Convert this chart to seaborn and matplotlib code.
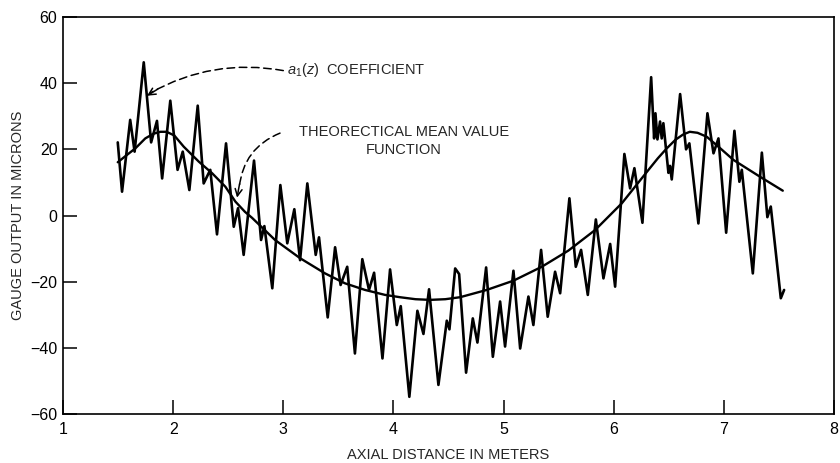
import matplotlib
matplotlib.use("Agg")
import matplotlib.pyplot as plt
import seaborn as sns
import pandas as pd

# Measured gauge trace (axial distance in m, gauge output in microns)
trace_x = [1.497, 1.536, 1.610, 1.650, 1.733, 1.800, 1.853, 1.900, 1.974, 2.040,
           2.087, 2.147, 2.223, 2.277, 2.337, 2.398, 2.480, 2.550, 2.589, 2.640,
           2.734, 2.798, 2.828, 2.900, 2.973, 3.036, 3.100, 3.152, 3.218, 3.294,
           3.324, 3.403, 3.470, 3.520, 3.580, 3.650, 3.717, 3.778, 3.824, 3.900,
           3.969, 4.030, 4.066, 4.144, 4.217, 4.272, 4.323, 4.408, 4.484, 4.508,
           4.560, 4.596, 4.659, 4.720, 4.762, 4.841, 4.902, 4.968, 5.013, 5.089,
           5.150, 5.225, 5.270, 5.340, 5.400, 5.467, 5.513, 5.597, 5.655, 5.703,
           5.764, 5.837, 5.906, 5.967, 6.012, 6.096, 6.148, 6.187, 6.260, 6.339,
           6.366, 6.378, 6.396, 6.420, 6.435, 6.450, 6.496, 6.510, 6.526, 6.602,
           6.656, 6.686, 6.768, 6.850, 6.905, 6.950, 7.020, 7.095, 7.140, 7.162,
           7.262, 7.344, 7.394, 7.425, 7.516, 7.546]
trace_y = [22.1, 7.2, 28.9, 19.3, 46.3, 22.1, 28.6, 11.2, 34.7, 13.8,
           19.3, 7.7, 33.2, 9.7, 13.8, -5.7, 21.8, -3.4, 2.2, -11.9,
           16.6, -7.4, -3.2, -22.0, 9.2, -8.4, 1.9, -13.5, 9.7, -11.9,
           -6.6, -30.8, -9.6, -21.0, -15.5, -41.7, -13.2, -22.5, -17.3, -43.2,
           -16.3, -33.1, -27.4, -54.8, -28.8, -35.8, -22.3, -51.2, -31.8, -34.4,
           -16.0, -17.7, -47.5, -31.1, -38.4, -15.7, -42.7, -26.0, -39.6, -16.7,
           -40.2, -24.5, -33.1, -10.4, -30.6, -17.0, -23.5, 5.2, -15.5, -10.4,
           -24.0, -1.2, -19.0, -8.6, -21.5, 18.6, 8.2, 14.3, -2.2, 41.8,
           23.3, 30.9, 23.0, 28.4, 23.3, 27.9, 12.9, 15.0, 10.9, 36.7,
           20.0, 21.8, -2.4, 30.9, 18.8, 23.3, -5.2, 25.6, 10.2, 13.8,
           -17.5, 19.0, -0.5, 2.7, -25.0, -22.5]

# Theoretical mean value function
mean_x = [1.497, 1.580, 1.657, 1.747, 1.820, 1.884, 1.940, 2.010, 2.096, 2.232,
          2.353, 2.474, 2.565, 2.652, 2.716, 2.925, 3.152, 3.379, 3.560, 3.742,
          3.924, 4.060, 4.200, 4.332, 4.470, 4.604, 4.846, 5.089, 5.346, 5.588,
          5.830, 6.073, 6.315, 6.400, 6.481, 6.560, 6.630, 6.690, 6.760, 6.844,
          6.960, 7.086, 7.328, 7.534]
mean_y = [16.1, 18.3, 20.3, 23.3, 24.7, 25.3, 25.3, 24.2, 20.8, 16.3,
          12.8, 8.7, 4.2, 1.1, -0.7, -7.4, -12.9, -17.5, -20.5, -22.5,
          -24.0, -24.7, -25.3, -25.5, -25.3, -24.7, -22.5, -19.7, -15.5, -10.6,
          -4.4, 3.7, 13.8, 17.3, 20.3, 22.9, 24.5, 25.3, 25.0, 23.8,
          20.5, 16.8, 11.7, 7.5]

x_ticks = [1, 2, 3, 4, 5, 6, 7, 8]
y_ticks = [-60, -40, -20, 0, 20, 40, 60]

trace = pd.DataFrame({"x": trace_x, "y": trace_y})
mean = pd.DataFrame({"x": mean_x, "y": mean_y})

sns.set_style("ticks")
plt.rcParams["font.family"] = ["Liberation Sans", "DejaVu Sans"]
plt.rcParams["mathtext.fontset"] = "custom"
plt.rcParams["mathtext.it"] = "Liberation Sans:italic"
plt.rcParams["mathtext.rm"] = "Liberation Sans"

fig = plt.figure(figsize=(8.4, 4.63), dpi=100)
ax = fig.add_axes([0.075, 0.1058, 0.918, 0.8575])

sns.lineplot(data=trace, x="x", y="y", ax=ax, color="black", lw=1.9,
             sort=False, estimator=None)
sns.lineplot(data=mean, x="x", y="y", ax=ax, color="black", lw=1.7,
             sort=False, estimator=None)

ax.set_xlim(1, 8)
ax.set_ylim(-60, 60)
ax.set_xticks(x_ticks)
ax.set_yticks(y_ticks)
ax.set_xticklabels([str(v) for v in x_ticks])
ax.set_yticklabels([f"{v}".replace("-", "\u2212") for v in y_ticks])
ax.tick_params(axis="both", direction="in", length=10, width=1.1,
               labelsize=11.5, colors="black")
ax.tick_params(axis="x", pad=6)
ax.tick_params(axis="y", pad=4)
for sp in ax.spines.values():
    sp.set_visible(True)
    sp.set_linewidth(1.2)
    sp.set_color("black")

ax.set_xlabel("AXIAL DISTANCE IN METERS", fontsize=10.5, labelpad=8)
ax.set_ylabel("GAUGE OUTPUT IN MICRONS", fontsize=10.5, labelpad=4)

# Callout: a1(z) coefficient
ax.text(3.03, 44.0, r"$a_1(z)$  COEFFICIENT", fontsize=10.5,
        ha="left", va="center")
ax.annotate("", xy=(1.79, 37.0), xytext=(3.0, 43.8),
            arrowprops=dict(arrowstyle="-", linestyle=(0, (5, 3)), lw=1.1,
                            color="black", connectionstyle="arc3,rad=0.18",
                            shrinkA=0, shrinkB=0))
ax.annotate("", xy=(1.763, 36.2), xytext=(1.86, 38.2),
            arrowprops=dict(arrowstyle="->,head_length=0.5,head_width=0.25",
                            lw=1.1, color="black", shrinkA=0, shrinkB=0))

# Callout: theoretical mean value function
ax.text(4.096, 22.5, "THEORECTICAL MEAN VALUE\nFUNCTION", fontsize=10.5,
        ha="center", va="center", multialignment="center", linespacing=1.3)
ax.annotate("", xy=(2.60, 8.5), xytext=(2.97, 24.9),
            arrowprops=dict(arrowstyle="-", linestyle=(0, (5, 3)), lw=1.1,
                            color="black", connectionstyle="arc3,rad=0.3",
                            shrinkA=0, shrinkB=0))
ax.annotate("", xy=(2.58, 5.4), xytext=(2.603, 9.6),
            arrowprops=dict(arrowstyle="->,head_length=0.5,head_width=0.25",
                            lw=1.1, color="black", shrinkA=0, shrinkB=0))

fig.savefig("out.png", dpi=100)
